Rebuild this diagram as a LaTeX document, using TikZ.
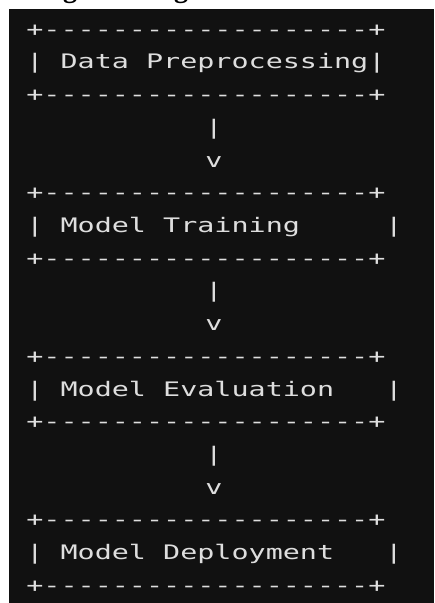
\documentclass[tikz,border=0pt]{standalone}
\usepackage{fontspec}
\setmonofont{DejaVu Sans Mono}[FakeStretch=1.42]
\newfontfamily\titlefont{Liberation Serif}
\usetikzlibrary{positioning}
\definecolor{termbg}{HTML}{111111}
\definecolor{termfg}{HTML}{DEDEDE}
\newcommand\blank{\hphantom{x}}

\begin{document}
\begin{tikzpicture}[
  x=0.5pt,y=-0.5pt,
  row/.style={font=\ttfamily\fontsize{10}{12}\selectfont,text=termfg,
    inner sep=0pt,anchor=base west},
  tip/.style={row,anchor=base}
]
  \useasboundingbox (0,0) rectangle (434,603);
  \fill[termbg] (9.3,9.3) rectangle (434,603);
  % title above, cut off by the frame
  \begin{scope}
    \clip (0,0) rectangle (434,9.3);
    \node[font=\titlefont\bfseries\fontsize{14}{16}\selectfont,inner sep=0pt,anchor=base] (ga) at (70,-2) {g};
    \node[font=\titlefont\bfseries\fontsize{14}{16}\selectfont,inner sep=0pt,anchor=base] (gb) at (181,-2) {g};
  \end{scope}
  % box 1
  \node[row] (top1) at (26,36.3) {+-------------------+};
  \node[row] (data) at (26,69.0) {| Data Preprocessing|};
  \node[row] (bot1) at (26,101.7) {+-------------------+};
  \node[tip] (bar1) at (214,134.4) {|};
  \node[tip] (v1) at (214,167.1) {v};
  % box 2
  \node[row] (top2) at (26,199.8) {+-------------------+};
  \node[row] (train) at (26,232.5) {| Model Training\blank\blank\blank\blank\blank|};
  \node[row] (bot2) at (26,265.2) {+-------------------+};
  \node[tip] (bar2) at (214,297.9) {|};
  \node[tip] (v2) at (214,330.6) {v};
  % box 3
  \node[row] (top3) at (26,363.3) {+-------------------+};
  \node[row] (eval) at (26,396.0) {| Model Evaluation\blank\blank\blank|};
  \node[row] (bot3) at (26,428.7) {+-------------------+};
  \node[tip] (bar3) at (214,461.4) {|};
  \node[tip] (v3) at (214,494.1) {v};
  % box 4
  \node[row] (top4) at (26,526.8) {+-------------------+};
  \node[row] (deploy) at (26,559.5) {| Model Deployment\blank\blank\blank|};
  \node[row] (bot4) at (26,592.2) {+-------------------+};
\end{tikzpicture}
\end{document}
